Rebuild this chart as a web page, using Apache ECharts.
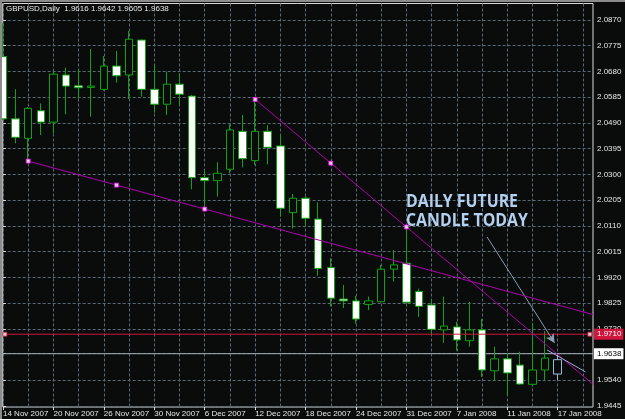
<!DOCTYPE html>
<html><head><meta charset="utf-8">
<script src="https://cdn.jsdelivr.net/npm/echarts@6/dist/echarts.min.js"></script>
<style>html,body{margin:0;padding:0;background:#0a0c0c;}#c{width:625px;height:419px;}</style>
</head><body><div id="c"></div>
<script>
// ---- data (GBPUSD daily) ----
const dates = ['14 Nov 2007','15 Nov 2007','16 Nov 2007','19 Nov 2007','20 Nov 2007','21 Nov 2007','22 Nov 2007','23 Nov 2007',
 '26 Nov 2007','27 Nov 2007','28 Nov 2007','29 Nov 2007','30 Nov 2007','3 Dec 2007','4 Dec 2007','5 Dec 2007',
 '6 Dec 2007','7 Dec 2007','10 Dec 2007','11 Dec 2007','12 Dec 2007','13 Dec 2007','14 Dec 2007','17 Dec 2007',
 '18 Dec 2007','19 Dec 2007','20 Dec 2007','21 Dec 2007','24 Dec 2007','26 Dec 2007','27 Dec 2007','28 Dec 2007',
 '31 Dec 2007','2 Jan 2008','3 Jan 2008','4 Jan 2008','7 Jan 2008','8 Jan 2008','9 Jan 2008','10 Jan 2008',
 '11 Jan 2008','14 Jan 2008','15 Jan 2008','16 Jan 2008','17 Jan 2008'];
const openP = [2.0735,2.0505,2.0433,2.0535,2.0493,2.0667,2.0627,2.0621,2.0614,2.0700,
 2.0667,2.0796,2.0614,2.0559,2.0633,2.0589,2.0288,2.0277,2.0319,2.0459,
 2.0351,2.0459,2.0405,2.0159,2.0212,2.0135,1.9956,1.9840,1.9833,1.9820,
 1.9830,1.9950,1.9972,1.9868,1.9818,1.9726,1.9737,1.9686,1.9726,1.9575,
 1.9619,1.9596,1.9525,1.9578,1.9616];
const closeP = [2.0505,2.0437,2.0544,2.0493,2.0670,2.0626,2.0620,2.0626,2.0700,2.0664,
 2.0799,2.0614,2.0559,2.0633,2.0596,2.0288,2.0277,2.0304,2.0464,2.0358,
 2.0459,2.0400,2.0175,2.0212,2.0138,1.9953,1.9843,1.9833,1.9766,1.9833,
 1.9950,1.9966,1.9828,1.9813,1.9728,1.9740,1.9689,1.9726,1.9578,1.9619,
 1.9567,1.9526,1.9578,1.9622,1.9563];
const highP = [2.0858,2.0615,2.0549,2.0562,2.0679,2.0694,2.0688,2.0763,2.0737,2.0756,
 2.0830,2.0798,2.0701,2.0679,2.0673,2.0593,2.0313,2.0345,2.0485,2.0519,
 2.0577,2.0482,2.0448,2.0228,2.0220,2.0197,1.9990,1.9892,1.9852,1.9849,
 1.9966,2.0021,2.0106,1.9878,1.9840,1.9849,1.9756,1.9829,1.9766,1.9664,
 1.9641,1.9645,1.9751,1.9722,1.9641];
const lowP = [2.0500,2.0415,2.0349,2.0445,2.0452,2.0522,2.0581,2.0513,2.0609,2.0639,
 2.0578,2.0587,2.0528,2.0519,2.0556,2.0245,2.0172,2.0218,2.0304,2.0326,
 2.0335,2.0337,2.0144,2.0100,2.0110,1.9926,1.9812,1.9807,1.9748,1.9799,
 1.9827,1.9904,1.9814,1.9774,1.9707,1.9678,1.9649,1.9664,1.9552,1.9538,
 1.9482,1.9523,1.9523,1.9541,1.9541];
const priceTicks = [2.0870,2.0775,2.0680,2.0585,2.0490,2.0395,2.0300,2.0205,2.0110,2.0015,1.9920,1.9825,1.9730,1.9638,1.9540,1.9445];
const dateLabelIdx = [0,4,8,12,16,20,24,28,32,36,40,44];
const vGridIdx = [0,2,4,6,8,10,12,14,16,18,20,22,24,26,28,30,32,34,36,38,40,42,44,46];
// trend lines: anchor bars & prices
const trendA = [[2, 2.0349],[16, 2.0172]];
const trendB = [[20, 2.0577],[32, 2.0106]];
const redLevel = 1.9710;
const bidLevel = 1.9638;
const header = 'GBPUSD,Daily  1.9616 1.9642 1.9605 1.9638';
const note = ['DAILY FUTURE','CANDLE TODAY'];
const arrowPts = [[38.4, 2.0069],[43.75, 1.9678]];
const projPts = [[43.15, 1.9652],[46.2, 1.9571]];
const hHandles = [0.15, 46.55];

const X_MIN = -0.024, X_MAX = 46.8, Y_MIN = 1.94413, Y_MAX = 2.09309;
const green = '#0fa30f';
const magenta = '#b000b0';
const gridCol = '#5a6874';

function ray(p, xEnd){
  const s = (p[1][1]-p[0][1])/(p[1][0]-p[0][0]);
  return [p[0], p[1], [xEnd, p[0][1] + s*(xEnd-p[0][0])]];
}
function mid(p){ return [(p[0][0]+p[1][0])/2, (p[0][1]+p[1][1])/2]; }

const candles = dates.map((d,i)=>{
  const item = {value:[i, openP[i], closeP[i], lowP[i], highP[i]]};
  if (i === dates.length-1) item.itemStyle = {color:'#0a0c0c', color0:'#0a0c0c', borderColor:'#9db8d8', borderColor0:'#9db8d8'};
  return item;
});

const chart = echarts.init(document.getElementById('c'), null, {renderer:'canvas'});
const font = 'Liberation Sans';
chart.setOption({
  animation:false,
  backgroundColor:'#0a0c0c',
  grid:{left:2.5, right:32, top:3.5, bottom:12, show:true, borderColor:'#d8d8d8', borderWidth:1, backgroundColor:'#0a0c0c'},
  xAxis:[{
    type:'value', min:X_MIN, max:X_MAX, position:'bottom',
    axisLine:{show:false},
    axisTick:{show:true, customValues:dateLabelIdx, length:3, lineStyle:{color:'#d8d8d8'}},
    axisLabel:{customValues:dateLabelIdx, formatter:v=>dates[Math.round(v)]||'', color:'#e6e6e6', fontFamily:font, fontSize:8, align:'left', margin:3, showMinLabel:true, showMaxLabel:true},
    splitLine:{show:false}
  },{
    type:'value', min:X_MIN, max:X_MAX, position:'top',
    axisLine:{show:false}, axisLabel:{show:false},
    axisTick:{show:false, customValues:vGridIdx},
    splitLine:{show:true, lineStyle:{color:gridCol, type:[3,2], width:1}}
  }],
  yAxis:{
    type:'value', min:Y_MIN, max:Y_MAX, position:'right', scale:true,
    axisLine:{show:false},
    axisTick:{show:true, customValues:priceTicks, length:3, lineStyle:{color:'#d8d8d8'}},
    axisLabel:{customValues:priceTicks, formatter:v=>v.toFixed(4), color:'#e6e6e6', fontFamily:font, fontSize:8, margin:4, showMinLabel:true, showMaxLabel:true},
    splitLine:{show:true, lineStyle:{color:gridCol, type:[3,2], width:1}}
  },
  series:[
    {type:'line', data:[[X_MIN,bidLevel],[X_MAX,bidLevel]], symbol:'none', lineStyle:{color:'#a6b0ba', width:1}, z:2, silent:true,
      endLabel:{show:true, formatter:bidLevel.toFixed(4), backgroundColor:'#ffffff', color:'#000', fontFamily:font, fontSize:8, padding:[2,2,1,3], distance:1}},
    {type:'candlestick', data:candles, barWidth:8, clip:true, z:3,
      itemStyle:{color:'#0a0c0c', color0:'#ffffff', borderColor:green, borderColor0:green, borderWidth:1}},
    {type:'line', data:[[X_MIN,redLevel],[X_MAX,redLevel]], symbol:'none', lineStyle:{color:'#d0163c', width:1}, z:4, silent:true,
      endLabel:{show:true, formatter:redLevel.toFixed(4), backgroundColor:'#d0163c', color:'#fff', fontFamily:font, fontSize:8, padding:[2,2,1,3], distance:1}},
    {type:'scatter', data:hHandles.map(x=>[x,redLevel]), symbol:'rect', symbolSize:4, itemStyle:{color:'#fff', borderColor:'#d0163c', borderWidth:1}, z:6, clip:false},
    {type:'line', data:ray(trendA, X_MAX), symbol:'none', lineStyle:{color:magenta, width:1}, z:5},
    {type:'line', data:ray(trendB, X_MAX), symbol:'none', lineStyle:{color:magenta, width:1}, z:5},
    {type:'scatter', data:[trendA[0], mid(trendA), trendA[1], trendB[0], mid(trendB), trendB[1]], symbol:'rect', symbolSize:4,
      itemStyle:{color:'#fff', borderColor:'#ff00ff', borderWidth:1}, z:7},
    {type:'line', data:projPts, symbol:'none', lineStyle:{color:'#9db0c8', width:1}, z:6},
    {type:'line', data:[], z:6, markLine:{silent:true, symbol:['none','arrow'], symbolSize:[7,9],
      lineStyle:{color:'#8a9cb0', width:1, type:'solid'}, label:{show:false},
      data:[[{coord:arrowPts[0]},{coord:arrowPts[1]}]]}}
  ],
  graphic:[
    {type:'rect', shape:{x:0,y:0,width:625,height:2}, style:{fill:'#8c8c8c'}, z:100},
    {type:'rect', shape:{x:0,y:0,width:2,height:419}, style:{fill:'#8c8c8c'}, z:100},
    {type:'text', left:6, top:5, style:{text:header, fill:'#e6e6e6', font:'8px "Liberation Sans"'}, z:100},
    {type:'text', x:406, y:201.5, scaleX:0.88, style:{text:note[0], fill:'#b4d0f0', font:'bold 18px "Open Sans"', textVerticalAlign:'middle'}, z:100},
    {type:'text', x:406, y:221, scaleX:0.88, style:{text:note[1], fill:'#b4d0f0', font:'bold 18px "Open Sans"', textVerticalAlign:'middle'}, z:100}
  ]
});
</script></body></html>
